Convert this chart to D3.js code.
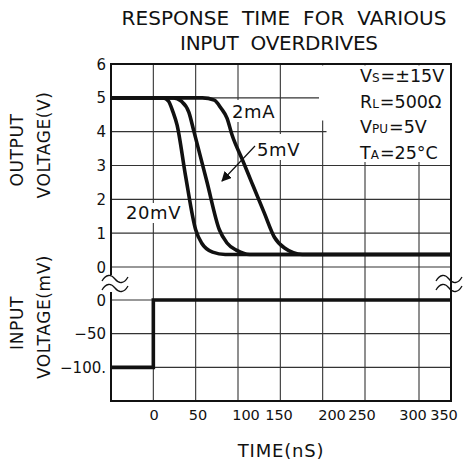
<!DOCTYPE html>
<html><head><meta charset="utf-8">
<script src="https://cdn.jsdelivr.net/npm/d3@7"></script>
<style>
html,body{margin:0;padding:0;background:#fff;}
svg{display:block;font-family:"DejaVu Sans",sans-serif;}
</style></head>
<body><svg id="c" width="467" height="463"></svg>
<script>
// ---- data ----
const titleLines = ["RESPONSE  TIME  FOR  VARIOUS", "INPUT  OVERDRIVES"];
const timeTicks = [0, 50, 100, 150, 200, 250, 300, 350];
const timeTickLabels = ["0", "50", "100", "150", "200", "250", "300", "350"];
const outTicks = [0, 1, 2, 3, 4, 5, 6];
const outTickLabels = ["0", "1", "2", "3", "4", "5", "6"];
const inTicks = [0, -50, -100];
const inTickLabels = ["0", "\u221250", "\u2212100."];
const seriesNames = ["20mV", "5mV", "2mA"];
const t20mV = [-50, 12, 18, 23, 28, 38, 50, 57, 70, 85, 350];
const v20mV = [5, 5, 4.9, 4.6, 4.2, 2.7, 1.1, 0.71, 0.44, 0.37, 0.37];
const t5mV = [-50, 24, 33, 42, 48, 63, 78, 87, 98, 114, 350];
const v5mV = [5, 5, 4.9, 4.57, 4.0, 2.55, 1.1, 0.71, 0.5, 0.37, 0.37];
const t2mA = [-50, 58, 72, 80, 87, 93, 105, 116, 131, 143, 155, 176, 350];
const v2mA = [5, 5, 4.93, 4.69, 4.4, 3.9, 3.18, 2.51, 1.6, 0.88, 0.56, 0.37, 0.37];
const tInput = [-50, 0, 0, 350];
const vInput = [-100, -100, 0, 0];
const conditions = [["V","S","=\u00b115V"],["R","L","=500\u03a9"],["V","PU","=5V"],["T","A","=25\u00b0C"]];

// ---- layout ----
const svg = d3.select("#c");
const L = 111, R = 451, T = 64, B = 401;
// the printed time grid is not evenly spaced; piecewise scale follows it
const x = d3.scaleLinear().domain([-50, 250, 300, 350]).range([L, 365, 419, R]);
// tick label positions as printed (offset from grid in the original)
const xLab = d3.scaleLinear().domain(timeTicks).range([154, 198, 246, 279, 332, 362, 413, 444]);
const yOut = d3.scaleLinear().domain([0, 6]).range([267, T]);
const yIn = d3.scaleLinear().domain([-150, 0]).range([B, 300]);
const ink = "#111";

// grid
const g = svg.append("g").attr("stroke", "#333").attr("stroke-width", 1.1);
timeTicks.forEach(t => {
  if (t === 350) return;
  g.append("line").attr("x1", x(t)).attr("x2", x(t)).attr("y1", T).attr("y2", B);
});
outTicks.forEach(v => {
  if (v === 6) return;
  g.append("line").attr("x1", L).attr("x2", R).attr("y1", yOut(v)).attr("y2", yOut(v));
});
inTicks.forEach(v => {
  g.append("line").attr("x1", L).attr("x2", R).attr("y1", yIn(v)).attr("y2", yIn(v));
});

// white masks behind annotations
const mask = (x0, y0, w, h) => svg.append("rect").attr("x", x0).attr("y", y0).attr("width", w).attr("height", h).attr("fill", "#fff");
mask(319, T + 1.5, R - 320, 55);
mask(326.5, 119, R - 327.5, 43);
mask(231, 100, 48, 22);
mask(255, 134, 50, 26);
mask(124, 203, 63, 20);

// frame
svg.append("rect").attr("x", L).attr("y", T).attr("width", R - L).attr("height", B - T)
  .attr("fill", "none").attr("stroke", ink).attr("stroke-width", 2);

// break marks
[115, 449].forEach(cx => {
  if (cx < 200) mask(cx - 6, 275, 10, 17);
  [279, 288].forEach(cy => {
    svg.append("path")
      .attr("d", `M${cx-13},${cy+2} C${cx-9},${cy-5} ${cx-4},${cy-5} ${cx},${cy} S${cx+9},${cy+5} ${cx+13},${cy-2}`)
      .attr("fill", "none").attr("stroke", ink).attr("stroke-width", 1.3);
  });
});

// curves
const lineOut = d3.line().x(d => x(d[0])).y(d => yOut(d[1])).curve(d3.curveMonotoneX);
[[t20mV, v20mV], [t5mV, v5mV], [t2mA, v2mA]].forEach(([ts, vs]) => {
  svg.append("path").attr("d", lineOut(ts.map((t, i) => [t, vs[i]])))
    .attr("fill", "none").attr("stroke", ink).attr("stroke-width", 3.6).attr("stroke-linejoin", "round");
});
const lineIn = d3.line().x(d => x(d[0])).y(d => yIn(d[1]));
svg.append("path").attr("d", lineIn(tInput.map((t, i) => [t, vInput[i]])))
  .attr("fill", "none").attr("stroke", ink).attr("stroke-width", 3.6).attr("stroke-linejoin", "miter");

// arrow for 5mV
svg.append("defs").append("marker").attr("id", "ah").attr("viewBox", "0 0 10 10")
  .attr("refX", 9).attr("refY", 5).attr("markerWidth", 10).attr("markerHeight", 10)
  .attr("markerUnits", "userSpaceOnUse").attr("orient", "auto")
  .append("path").attr("d", "M0,0 L10,5 L0,10 Z").attr("fill", ink);
svg.append("line").attr("x1", 255).attr("y1", 146).attr("x2", 222).attr("y2", 181)
  .attr("stroke", ink).attr("stroke-width", 1.2).attr("marker-end", "url(#ah)");

// text helpers
const txt = (s, px, py, size, anchor, extra) => {
  const e = svg.append("text").attr("x", px).attr("y", py).attr("font-size", size)
    .attr("text-anchor", anchor || "start").attr("fill", ink).style("white-space", "pre").text(s);
  if (extra) extra(e);
  return e;
};

// series labels
txt(seriesNames[2], 232, 118, 18, "start", e => e.attr("letter-spacing", 0.6));
txt(seriesNames[1], 257, 156, 18, "start", e => e.attr("letter-spacing", 0.6));
txt(seriesNames[0], 126, 219, 18, "start", e => e.attr("letter-spacing", 0.6));

// conditions
conditions.forEach((c, i) => {
  const t = svg.append("text").attr("x", 360).attr("y", 82 + i * 25.5).attr("font-size", 17.5).attr("fill", ink);
  t.append("tspan").text(c[0]);
  t.append("tspan").attr("font-size", 12).text(c[1]);
  t.append("tspan").attr("dx", 1).text(c[2]);
});

// title
txt(titleLines[0], 284, 25, 20, "middle", e => e.attr("textLength", 325).attr("lengthAdjust", "spacing"));
txt(titleLines[1], 279, 50, 20, "middle", e => e.attr("textLength", 198).attr("lengthAdjust", "spacing"));

// tick labels
outTicks.forEach((v, i) => txt(outTickLabels[i], 106, yOut(v) + 5.5, 15, "end"));
inTicks.forEach((v, i) => txt(inTickLabels[i], 106, yIn(v) + 5.5, 15, "end"));
timeTicks.forEach((t, i) => txt(timeTickLabels[i], xLab(t), 420, 14.5, "middle"));

// axis titles
const vtxt = (s, cx, cy) => svg.append("text").attr("transform", `translate(${cx},${cy}) rotate(-90)`)
  .attr("text-anchor", "middle").attr("font-size", 17).attr("fill", ink).attr("letter-spacing", 0.6).text(s);
vtxt("OUTPUT", 23, 150);
vtxt("VOLTAGE(V)", 50, 145);
vtxt("INPUT", 23, 323);
vtxt("VOLTAGE(mV)", 50, 317);
txt("TIME(nS)", 281, 457, 18, "middle", e => e.attr("letter-spacing", 0.8));
</script></body></html>
